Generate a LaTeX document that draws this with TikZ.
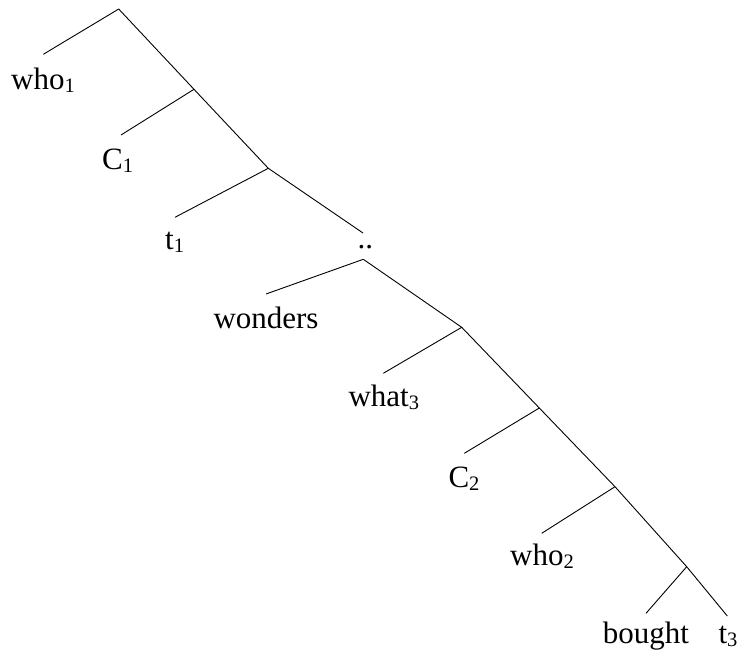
\documentclass[tikz,border=0pt]{standalone}
\usepackage{fontspec}
\setmainfont{Liberation Serif}
\newcommand{\sbs}[1]{\raisebox{-3.6pt}{\fontsize{20.5}{21}\selectfont #1}}
\begin{document}
\begin{tikzpicture}[x=1pt,y=-1pt,
  branch/.style={line width=0.9pt, black},
  leaf/.style={anchor=base west, inner sep=0pt, font=\fontsize{31}{36}\selectfont}]
\useasboundingbox (0,0) rectangle (738,651);
% junctions
\coordinate (r) at (118.7,9);
\coordinate (j1) at (194,89.3);
\coordinate (j2) at (268.3,168.3);
\coordinate (j3) at (363.3,259.3);
\coordinate (j4) at (461.7,327.3);
\coordinate (j5) at (539.3,408);
\coordinate (j6) at (615,486.7);
\coordinate (j7) at (686.7,566.7);
% line ends
\coordinate (ewho1) at (43.3,54.3);
\coordinate (eC1) at (121,135);
\coordinate (et1) at (175,217.3);
\coordinate (edd) at (363,233);
\coordinate (ewon) at (266,294);
\coordinate (ewhat) at (383.3,373.3);
\coordinate (eC2) at (464.3,453.3);
\coordinate (ewho2) at (541.7,533.3);
\coordinate (ebought) at (646,613.3);
\coordinate (et3) at (727.3,616);
% labels
\node[leaf] (who1) at (11,89.3) {who\sbs{1}};
\node[leaf] (C1) at (102,169.3) {C\sbs{1}};
\node[leaf] (t1) at (165,249.3) {t\sbs{1}};
\node[leaf] (dd) at (357.3,248.3) {..};
\node[leaf] (won) at (213.3,328.3) {wonders};
\node[leaf] (what3) at (348.3,406) {what\sbs{3}};
\node[leaf] (C2) at (448.3,487.3) {C\sbs{2}};
\node[leaf] (who2) at (510,565) {who\sbs{2}};
\node[leaf] (bought) at (602.7,643.3) {bought};
\node[leaf] (t3) at (718.3,643.3) {t\sbs{3}};
% spine
\draw[branch] (r) -- (j1) -- (j2) -- (edd);
\draw[branch] (j3) -- (j4) -- (j5) -- (j6) -- (j7) -- (et3);
% branches
\draw[branch] (r) -- (ewho1);
\draw[branch] (j1) -- (eC1);
\draw[branch] (j2) -- (et1);
\draw[branch] (j3) -- (ewon);
\draw[branch] (j4) -- (ewhat);
\draw[branch] (j5) -- (eC2);
\draw[branch] (j6) -- (ewho2);
\draw[branch] (j7) -- (ebought);
\end{tikzpicture}
\end{document}
